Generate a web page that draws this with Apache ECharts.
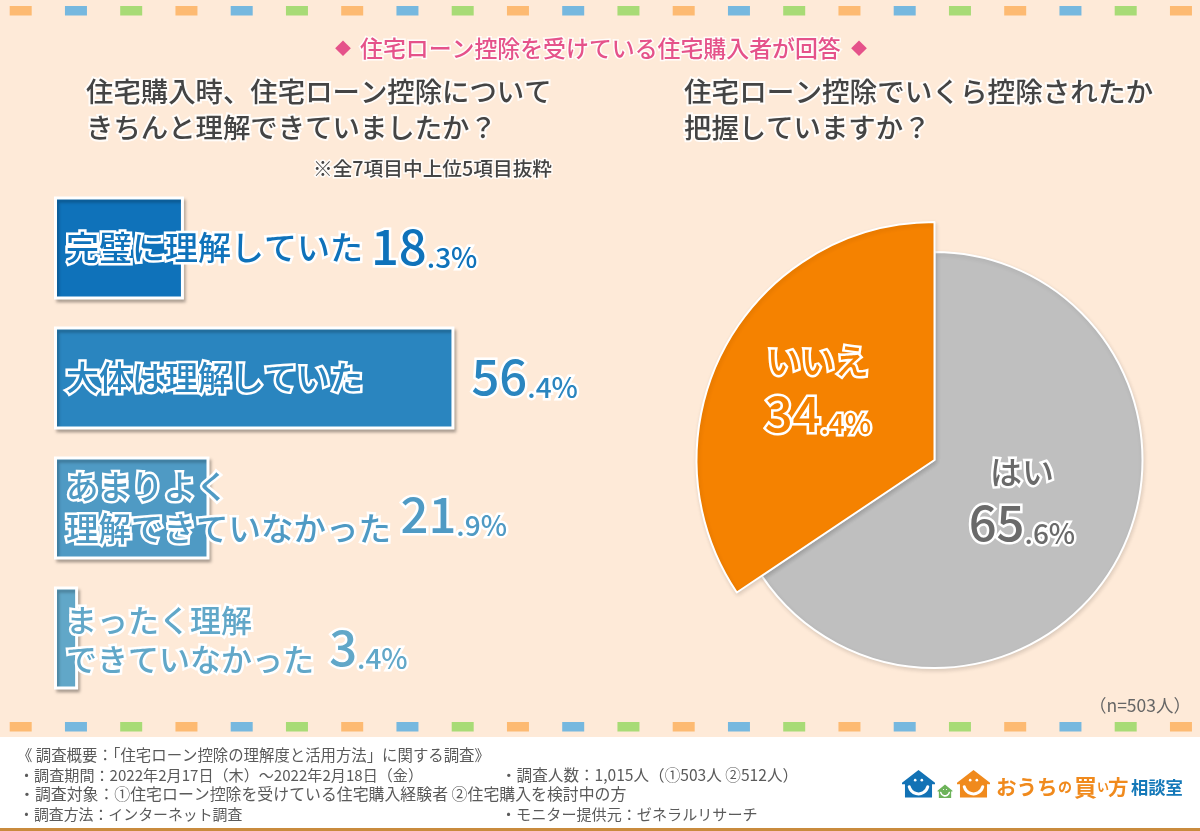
<!DOCTYPE html>
<html><head><meta charset="utf-8">
<style>html,body{margin:0;padding:0;background:#FEEAD8}#c{width:1200px;height:831px}</style>
<script src="https://cdn.jsdelivr.net/npm/echarts@6/dist/echarts.min.js"></script>
</head><body><div id="c"></div>
<script>
// ---- data ----
const barCategories = ['完璧に理解していた','大体は理解していた','あまりよく\n理解できていなかった','まったく理解\nできていなかった'];
const barValues = [18.3, 56.4, 21.9, 3.4];
const barColors = ['#0F72BA','#2A85BF','#4F9AC4','#61A7C8'];
const pieCategories = ['はい','いいえ'];
const pieValues = [65.6, 34.4];
const pieColors = ['#BFBFBF','#F58200'];
const pieTextColors = ['#6A6A6A','#F58200'];

// ---- layout (not data) ----
const JP = '"Noto Sans CJK JP","Noto Sans",sans-serif';
const NUM = '"Noto Sans CJK JP","Noto Sans",sans-serif';
const valueGaps = [187, 17, 191, 251];
const valueShift = [-2, -2, 6, 9];
const catFont = [33, 33, 32.5, 31];
const catLine = [40, 40, 42, 39];
const catOffset = [[0,-1],[0,-1],[0,0],[0,2]];
const stripeColors = ['#FDBA72','#76B8DF','#A8DB76'];

const g = [];
function stripes(y){
  for(let i=0;i<22;i++){
    g.push({type:'rect',silent:true,z:1,shape:{x:9.7+i*55.25,y:y,width:22,height:9.5},style:{fill:stripeColors[i%3]}});
  }
}
stripes(6); stripes(722);
g.push({type:'rect',silent:true,z:1,shape:{x:0,y:737,width:1200,height:91},style:{fill:'#FFFFFF'}});
g.push({type:'rect',silent:true,z:1,shape:{x:0,y:828,width:1200,height:3},style:{fill:'#C98B3E'}});

function txt(s,x,y,size,fill,opt){
  opt=opt||{};
  g.push({type:'text',silent:true,z:5,style:Object.assign({text:s,x:x,y:y,font:(opt.weight||'500')+' '+size+'px '+JP,fill:fill,textAlign:opt.align||'left',textVerticalAlign:'middle',verticalAlign:'middle'},opt.glow?{stroke:'rgba(255,255,255,0.85)',lineWidth:opt.glow}:{})});
}
txt('◆',335,48,16,'#E5528A');
txt('住宅ローン控除を受けている住宅購入者が回答',360,48,22.9,'#E5528A',{glow:3});
txt('◆',851,48,16,'#E5528A');
txt('住宅購入時、住宅ローン控除について',86,92,27.4,'#444444',{glow:4});
txt('きちんと理解できていましたか\uFF1F',86,128,27.4,'#444444',{glow:4});
txt('住宅ローン控除でいくら控除されたか',684,92,27.6,'#444444',{glow:4});
txt('把握していますか\uFF1F',684,128,27.4,'#444444',{glow:4});
txt('※全7項目中上位5項目抜粋',552,169,19.7,'#444444',{glow:3,align:'right'});
txt('\uFF08n=503人\uFF09',1191,705,17.5,'#666666',{weight:'400',align:'right'});

const FC='#5A5A5A';
txt('《 調査概要\uFF1A「住宅ローン控除の理解度と活用方法」に関する調査》',17,755,15.4,FC,{weight:'400'});
txt('・調査期間\uFF1A2022年2月17日\uFF08木\uFF09\uFF5E2022年2月18日\uFF08金\uFF09',19,775,15.1,FC,{weight:'400'});
txt('・調査対象\uFF1A①住宅ローン控除を受けている住宅購入経験者 ②住宅購入を検討中の方',19,794,15.9,FC,{weight:'400'});
txt('・調査方法\uFF1Aインターネット調査',19,814,14.9,FC,{weight:'400'});
txt('・調査人数\uFF1A1,015人\uFF08①503人 ②512人\uFF09',501,775,15.6,FC,{weight:'400'});
txt('・モニター提供元\uFF1Aゼネラルリサーチ',501,814,15.1,FC,{weight:'400'});

function house(cx,top,w,h,col,smileW){
  const hw=w/2, eave=top+h*0.46, drop=h*0.06;
  g.push({type:'polygon',silent:true,z:5,shape:{points:[[cx,top],[cx+hw,eave],[cx+hw,eave+drop],[cx+hw*0.82,eave+drop],[cx+hw*0.82,top+h],[cx-hw*0.82,top+h],[cx-hw*0.82,eave+drop],[cx-hw,eave+drop],[cx-hw,eave]]},style:{fill:col}});
  const cy=top+h*0.52, r=w*0.29;
  g.push({type:'arc',silent:true,z:7,shape:{cx:cx,cy:cy,r:r,startAngle:0.25,endAngle:Math.PI-0.25},style:{stroke:'#FFFFFF',fill:null,lineWidth:smileW,lineCap:'round'}});
  [-1,1].forEach(s=>g.push({type:'circle',silent:true,z:7,shape:{cx:cx+s*w*0.1,cy:top+h*0.37,r:w*0.04},style:{fill:'#FFFFFF'}}));
}
house(918.5,770,33,27.5,'#1272B5',3);
house(945,784.5,15,13.5,'#6DB35A',1.6);
house(973.5,770,33,27.5,'#F08A1D',3);
function logo(s,x,size,col){ g.push({type:'text',silent:true,z:5,style:{text:s,x:x,y:787,font:'700 '+size+'px '+JP,fill:col,textVerticalAlign:'middle',verticalAlign:'middle'}}); }
logo('おうち',996,20.5,'#F08A1D');
logo('の',1058,14,'#F08A1D');
logo('買',1074,23,'#F08A1D');
logo('い',1097,12,'#F08A1D');
logo('方',1108,20.5,'#F08A1D');
logo('相談室',1131,17.3,'#1478B8');

// value label: "18" big + ".3%" small
function splitVal(v){const p=String(v).split('.');return '{b|'+p[0]+'}{s|.'+p[1]+'%}';}
function richFor(col,t){
  const base={fontFamily:NUM,fontWeight:500,color:col,textBorderColor:'#fff',textBorderWidth:5};
  return {
    b:Object.assign({fontSize:49,lineHeight:50,verticalAlign:'bottom'},base),
    s:Object.assign({fontSize:28,lineHeight:40,verticalAlign:'bottom'},base),
    t:Object.assign({fontSize:t||32,lineHeight:52,align:'center'},base)
  };
}

const option = {
  animation:false,
  backgroundColor:'#FEEAD8',
  graphic:g,
  grid:{left:54,top:183,width:710,height:520,containLabel:false},
  xAxis:{type:'value',min:0,max:100,show:false},
  yAxis:{type:'category',data:barCategories,inverse:true,show:false},
  series:[
    {type:'bar',barWidth:103,z:3,
     data:barValues.map((v,i)=>({value:v,itemStyle:{color:barColors[i],borderColor:'#fff',borderWidth:3,shadowColor:'rgba(0,0,0,0.25)',shadowBlur:3,shadowOffsetX:2,shadowOffsetY:3},
       label:{show:true,position:'insideLeft',distance:12,offset:catOffset[i],formatter:barCategories[i],fontFamily:JP,fontSize:catFont[i],fontWeight:500,lineHeight:catLine[i],color:barColors[i],textBorderColor:'#fff',textBorderWidth:5,align:'left'}}))},
    {type:'bar',barWidth:103,barGap:'-100%',z:4,silent:true,
     data:barValues.map((v,i)=>({value:v,itemStyle:{color:'transparent'},
       label:{show:true,position:'right',distance:valueGaps[i],offset:[0,valueShift[i]],formatter:splitVal(v),rich:richFor(barColors[i])}}))},
    {type:'pie',center:[934.5,460],radius:[0,208],startAngle:90,clockwise:true,z:2,silent:true,
     data:[
       {name:pieCategories[0],value:pieValues[0],itemStyle:{color:pieColors[0],borderColor:'#fff',borderWidth:2,shadowColor:'rgba(0,0,0,0.12)',shadowBlur:4,shadowOffsetX:1,shadowOffsetY:2},
        label:{show:true,position:'inside',offset:[-7,-14],formatter:'{t|'+pieCategories[0]+'}\n'+splitVal(pieValues[0]),rich:richFor(pieTextColors[0],32)}},
       {name:pieCategories[1],value:pieValues[1],itemStyle:{color:'transparent'},label:{show:false}}
     ],labelLine:{show:false}},
    {type:'pie',center:[934.5,460],radius:[0,238],startAngle:90,clockwise:true,z:3,silent:true,
     data:[
       {name:pieCategories[0],value:pieValues[0],itemStyle:{color:'transparent'},label:{show:false}},
       {name:pieCategories[1],value:pieValues[1],itemStyle:{color:pieColors[1],borderColor:'#fff',borderWidth:2,shadowColor:'rgba(0,0,0,0.12)',shadowBlur:4,shadowOffsetX:1,shadowOffsetY:2},
        label:{show:true,position:'inside',offset:[-9,-16],formatter:'{t|'+pieCategories[1]+'}\n'+splitVal(pieValues[1]),rich:richFor(pieTextColors[1],34)}}
     ],labelLine:{show:false}}
  ]
};
echarts.init(document.getElementById('c'),null,{renderer:'canvas',width:1200,height:831}).setOption(option);
</script></body></html>
